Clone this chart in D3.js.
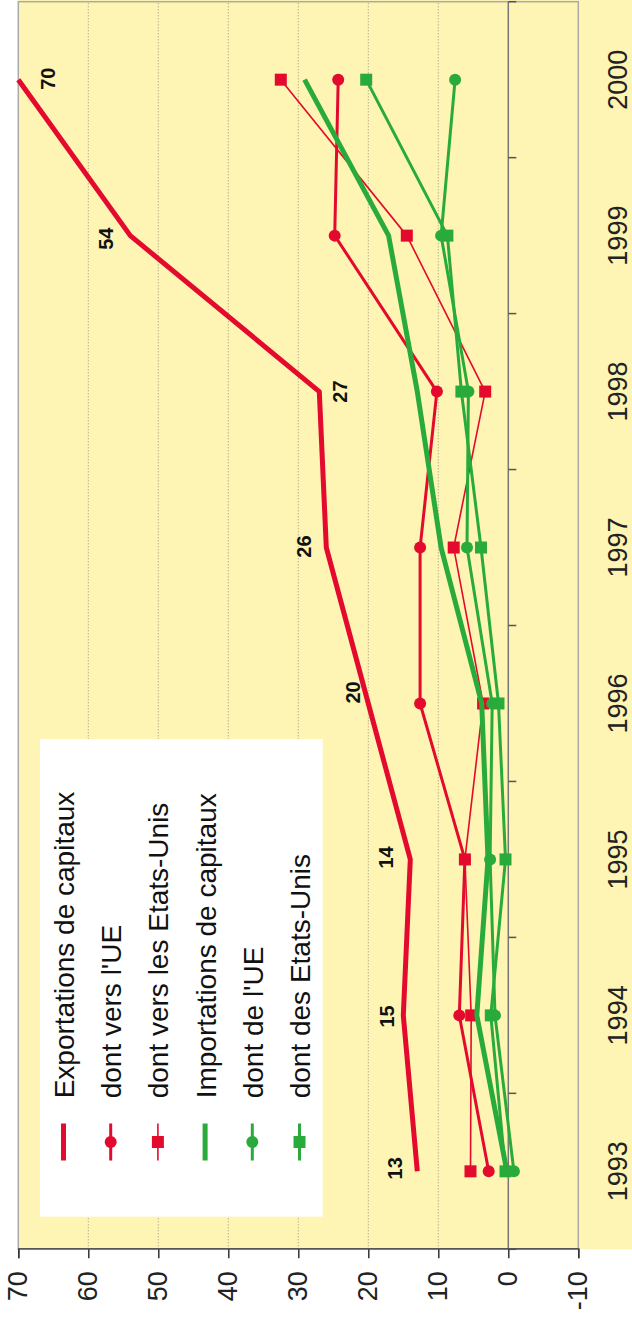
<!DOCTYPE html>
<html>
<head>
<meta charset="utf-8">
<script src="https://cdn.jsdelivr.net/npm/d3@7"></script>
<style>
  html, body { margin: 0; padding: 0; background: #fff; }
  svg { display: block; font-family: "Liberation Sans", Arial, sans-serif; }
</style>
</head>
<body>
<svg id="chart"></svg>
<script>
// data (milliards)
const years = ['1993', '1994', '1995', '1996', '1997', '1998', '1999', '2000'];
const exportsTotal = [13, 15, 14, 20, 26, 27, 54, 70];
const exportsUE = [2.8, 7.0, 6.2, 12.6, 12.6, 10.2, 24.8, 24.3];
const exportsUSA = [5.4, 5.3, 6.2, 3.6, 7.8, 3.3, 14.5, 32.5];
const importsTotal = [0.2, 4.5, 2.9, 3.8, 9.6, 13.0, 17.1, 29.1];
const importsUE = [-0.8, 1.9, 2.6, 2.3, 5.9, 5.7, 9.6, 7.6];
const importsUSA = [0.4, 2.5, 0.4, 1.4, 3.9, 6.7, 8.7, 20.3];
const valueTicks = [-10, 0, 10, 20, 30, 40, 50, 60, 70];
const legendLabels = [
  'Exportations de capitaux',
  "dont vers l'UE",
  'dont vers les Etats-Unis',
  'Importations de capitaux',
  "dont de l'UE",
  'dont des Etats-Unis'
];

// page is 632 x 1320, the chart is drawn lying down then turned -90deg
const pageW = 632;
const pageH = 1320;
const red = '#e30a2e';
const green = '#29ab3b';
const yellow = '#fef4b3';

// in the unrotated frame: width = pageH, height = pageW
const plot = { left: 70.7, right: 1318.3, top: 18.3, bottom: 578.3 };

const svg = d3.select('#chart')
  .attr('width', pageW)
  .attr('height', pageH);

const g = svg.append('g')
  .attr('transform', `translate(0,${pageH}) rotate(-90)`);

// scales
const xScale = d3.scaleBand()
  .domain(years)
  .range([plot.left, plot.right]);

const yScale = d3.scaleLinear()
  .domain([-10, 70])
  .range([plot.bottom, plot.top]);

const xc = (i) => xScale(years[i]) + xScale.bandwidth() / 2;

// background
g.append('rect')
  .attr('x', plot.left)
  .attr('y', plot.top)
  .attr('width', pageH - plot.left)
  .attr('height', pageW - plot.top)
  .attr('fill', yellow);

// dotted grid
g.append('g')
  .selectAll('line')
  .data(valueTicks.filter(d => d > 0 && d < 70))
  .enter()
  .append('line')
  .attr('x1', plot.left)
  .attr('x2', plot.right)
  .attr('y1', d => yScale(d))
  .attr('y2', d => yScale(d))
  .attr('stroke', '#9a9482')
  .attr('stroke-width', 1)
  .attr('stroke-dasharray', '1,2');

// plot frame
g.append('rect')
  .attr('x', plot.left)
  .attr('y', plot.top)
  .attr('width', plot.right - plot.left)
  .attr('height', plot.bottom - plot.top)
  .attr('fill', 'none')
  .attr('stroke', '#aaa')
  .attr('stroke-width', 1.5);

// zero line with ticks at the year boundaries
const y0 = yScale(0);
g.append('line')
  .attr('x1', plot.left)
  .attr('x2', plot.right)
  .attr('y1', y0)
  .attr('y2', y0)
  .attr('stroke', '#777')
  .attr('stroke-width', 1.5);

const bounds = years.map(d => xScale(d)).concat([plot.right]);
g.append('g')
  .selectAll('line')
  .data(bounds)
  .enter()
  .append('line')
  .attr('x1', d => d)
  .attr('x2', d => d)
  .attr('y1', y0)
  .attr('y2', y0 + 8)
  .attr('stroke', '#555')
  .attr('stroke-width', 1.5);

// value axis (bottom of the page)
const yAxis = d3.axisLeft(yScale)
  .tickValues(valueTicks)
  .tickSize(9)
  .tickPadding(13)
  .tickFormat(d => String(d));

const yAxisG = g.append('g')
  .attr('transform', `translate(${plot.left},0)`)
  .call(yAxis);
yAxisG.select('.domain').attr('stroke', '#555').attr('stroke-width', 1.5);
yAxisG.selectAll('.tick line').attr('stroke', '#333').attr('stroke-width', 1.5);
yAxisG.selectAll('.tick text')
  .attr('font-size', 27)
  .attr('font-family', '"Liberation Sans", Arial, sans-serif')
  .attr('fill', '#222');

// year axis (right side of the page)
const xAxis = d3.axisBottom(xScale)
  .tickSize(0)
  .tickPadding(30);

const xAxisG = g.append('g')
  .attr('transform', `translate(0,${plot.bottom})`)
  .call(xAxis);
xAxisG.select('.domain').remove();
xAxisG.selectAll('.tick text')
  .attr('font-size', 27)
  .attr('font-family', '"Liberation Sans", Arial, sans-serif')
  .attr('fill', '#222');

// series
const series = [
  { label: legendLabels[0], values: exportsTotal, color: red, width: 5, marker: null },
  { label: legendLabels[1], values: exportsUE, color: red, width: 3, marker: 'circle' },
  { label: legendLabels[2], values: exportsUSA, color: red, width: 1.6, marker: 'square' },
  { label: legendLabels[3], values: importsTotal, color: green, width: 5, marker: null },
  { label: legendLabels[4], values: importsUE, color: green, width: 3, marker: 'circle' },
  { label: legendLabels[5], values: importsUSA, color: green, width: 3, marker: 'square' }
];

const line = d3.line()
  .x((d, i) => xc(i))
  .y(d => yScale(d));

series.forEach(s => {
  g.append('path')
    .datum(s.values)
    .attr('d', line)
    .attr('fill', 'none')
    .attr('stroke', s.color)
    .attr('stroke-width', s.width)
    .attr('stroke-linejoin', 'round');

  if (s.marker === 'circle') {
    g.append('g')
      .selectAll('circle')
      .data(s.values)
      .enter()
      .append('circle')
      .attr('cx', (d, i) => xc(i))
      .attr('cy', d => yScale(d))
      .attr('r', 6)
      .attr('fill', s.color);
  } else if (s.marker === 'square') {
    g.append('g')
      .selectAll('rect')
      .data(s.values)
      .enter()
      .append('rect')
      .attr('x', (d, i) => xc(i) - 6)
      .attr('y', d => yScale(d) - 6)
      .attr('width', 12)
      .attr('height', 12)
      .attr('fill', s.color);
  }
});

// value labels on the exports line
const labelDx = [3, -1, 2, 11, 1, 0, -3, 1];
const labelDy = [-15, -9, -17, -8, -15, 28, -17, 37];
g.append('g')
  .selectAll('text')
  .data(exportsTotal)
  .enter()
  .append('text')
  .attr('x', (d, i) => xc(i) + labelDx[i])
  .attr('y', (d, i) => yScale(d) + labelDy[i])
  .attr('text-anchor', 'middle')
  .attr('font-size', 20)
  .attr('font-weight', 'bold')
  .attr('fill', '#111')
  .text(d => d);

// legend
const legend = g.append('g');
legend.append('rect')
  .attr('x', 103.3)
  .attr('y', 40)
  .attr('width', 581 - 103.3)
  .attr('height', 322.7 - 40)
  .attr('fill', '#fff');

const rowY = (i) => 63.5 + i * 47.2;
const rows = legend.selectAll('g.row')
  .data(series)
  .enter()
  .append('g')
  .attr('class', 'row')
  .attr('transform', (d, i) => `translate(0,${rowY(i)})`);

rows.append('line')
  .attr('x1', 159.5)
  .attr('x2', 196.5)
  .attr('y1', 0)
  .attr('y2', 0)
  .attr('stroke', d => d.color)
  .attr('stroke-width', d => d.width);

rows.filter(d => d.marker === 'circle')
  .append('circle')
  .attr('cx', 178)
  .attr('cy', 0)
  .attr('r', 6)
  .attr('fill', d => d.color);

rows.filter(d => d.marker === 'square')
  .append('rect')
  .attr('x', 172)
  .attr('y', -6)
  .attr('width', 12)
  .attr('height', 12)
  .attr('fill', d => d.color);

rows.append('text')
  .attr('x', 221.7)
  .attr('y', 10.5)
  .attr('font-size', 28)
  .attr('fill', '#111')
  .text(d => d.label);
</script>
</body>
</html>
